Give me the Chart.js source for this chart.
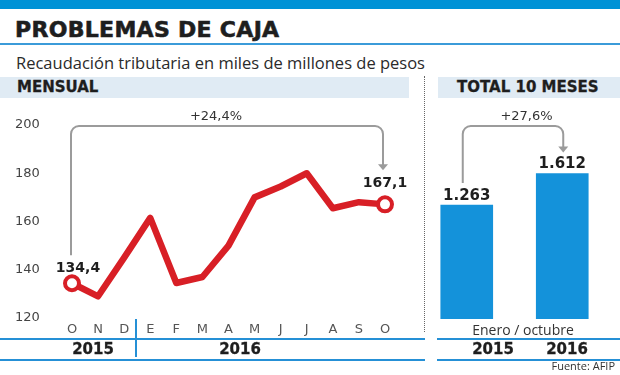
<!DOCTYPE html>
<html>
<head>
<meta charset="utf-8">
<script src="https://cdn.jsdelivr.net/npm/chart.js@4.4.1/dist/chart.umd.min.js"></script>
<style>
  body { margin: 0; background: #fff; }
  #page { position: relative; width: 620px; height: 375px; overflow: hidden; font-family: "DejaVu Sans", sans-serif; color: #1e1e1e; }
  .abs { position: absolute; white-space: nowrap; }
  #topbar { left: 0; top: 0; width: 620px; height: 9px; background: #0092d6; }
  #title { left: 15px; top: 16px; font: bold 22px "DejaVu Sans"; letter-spacing: 0.3px; line-height: 28px; -webkit-text-stroke: 0.6px #1e1e1e; }
  #titleRule { left: 0; top: 43px; width: 620px; height: 2px; background: #3b9bd9; }
  #subtitle { left: 16px; top: 52px; font: 16.5px "Open Sans"; line-height: 22px; color: #2a2a2a; }
  .band { background: #e0ebf4; height: 21px; top: 77px; }
  .band span { position: absolute; top: 0; font: bold 15px "DejaVu Sans"; line-height: 21px; -webkit-text-stroke: 0.3px #1e1e1e; }
  #bandLeft { left: 0; width: 409px; }
  #bandRight { left: 438px; width: 182px; }
  #sep { left: 424px; top: 76px; width: 0; height: 256px; border-left: 1px dotted #666; }
  .rule { height: 2px; background: #2590d6; }
  .year { font: bold 15px "DejaVu Sans"; line-height: 20px; top: 339px; transform: translateX(-50%); -webkit-text-stroke: 0.3px #1e1e1e; }
  #yearSep { left: 135px; top: 319px; width: 2px; height: 38px; background: #2590d6; }
  #caption { left: 523px; top: 320px; font: 14px "Open Sans"; color: #333; transform: translateX(-50%); line-height: 20px; }
  #source { right: 5px; top: 359px; font: 11px "Open Sans"; color: #333; line-height: 14px; }
  canvas { position: absolute; }
</style>
</head>
<body>
<div id="page">
  <div id="topbar" class="abs"></div>
  <div id="title" class="abs">PROBLEMAS DE CAJA</div>
  <div id="titleRule" class="abs"></div>
  <div id="subtitle" class="abs">Recaudación tributaria en miles de millones de pesos</div>
  <div id="bandLeft" class="abs band"><span style="left:17px">MENSUAL</span></div>
  <div id="bandRight" class="abs band"><span style="left:19px">TOTAL 10 MESES</span></div>
  <div id="sep" class="abs"></div>

  <canvas id="lineChart" width="420" height="245" style="left:0;top:100px"></canvas>
  <canvas id="barChart" width="210" height="245" style="left:410px;top:100px"></canvas>

  <div class="abs rule" style="left:0;top:338px;width:425px"></div>
  <div class="abs rule" style="left:0;top:359px;width:425px"></div>
  <div class="abs rule" style="left:437px;top:338px;width:183px"></div>
  <div class="abs rule" style="left:437px;top:359px;width:183px"></div>
  <div id="yearSep" class="abs"></div>
  <div id="caption" class="abs">Enero / octubre</div>
  <div id="source" class="abs">Fuente: AFIP</div>
</div>

<script>
// monthly tax collection, oct 2015 - oct 2016
const months = ['O', 'N', 'D', 'E', 'F', 'M', 'A', 'M', 'J', 'J', 'A', 'S', 'O'];
const monthly = [134.4, 129, 145, 161.5, 134.5, 137, 150, 170, 174.5, 180, 165.5, 168, 167.1];
const yTicks = [120, 140, 160, 180, 200];
const monthlyChange = '+24,4%';

// jan-oct totals
const totalYears = ['2015', '2016'];
const totals = [1263, 1612];
const totalChange = '+27,6%';

// year row under the axes: label and centre x
const yearRow = [['2015', 93], ['2016', 240], ['2015', 493], ['2016', 567]];

const RED = '#d81f26';
const BLUE = '#1492da';
const GRAY = '#9b9b9b';

yearRow.forEach(([txt, x]) => {
    const d = document.createElement('div');
    d.className = 'abs year';
    d.style.left = x + 'px';
    d.textContent = txt;
    document.getElementById('page').appendChild(d);
});

function fmtDec(v) {
    return v.toFixed(1).replace('.', ',');
}

function fmtThousands(v) {
    return String(v).replace(/\B(?=(\d{3})+(?!\d))/g, '.');
}

// bracket with rounded corners and an arrow at the end
function drawBracket(ctx, x1, yStart, x2, yEnd, yTop) {
    const r = 8;
    ctx.save();
    ctx.strokeStyle = GRAY;
    ctx.fillStyle = GRAY;
    ctx.lineWidth = 2;
    ctx.beginPath();
    ctx.moveTo(x1, yStart);
    ctx.lineTo(x1, yTop + r);
    ctx.arcTo(x1, yTop, x1 + r, yTop, r);
    ctx.lineTo(x2 - r, yTop);
    ctx.arcTo(x2, yTop, x2, yTop + r, r);
    ctx.lineTo(x2, yEnd - 4);
    ctx.stroke();
    ctx.beginPath();
    ctx.moveTo(x2 - 5, yEnd - 6);
    ctx.lineTo(x2 + 5, yEnd - 6);
    ctx.lineTo(x2, yEnd);
    ctx.closePath();
    ctx.fill();
    ctx.restore();
}

const lineNotes = {
    id: 'lineNotes',
    afterDatasetsDraw(chart) {
        const ctx = chart.ctx;
        const pts = chart.getDatasetMeta(0).data;
        const first = pts[0];
        const last = pts[pts.length - 1];
        const top = chart.chartArea.top + 1;
        drawBracket(ctx, first.x - 1, first.y - 28, last.x - 2, last.y - 34, top);

        ctx.save();
        ctx.fillStyle = '#333';
        ctx.font = '13px "DejaVu Sans"';
        ctx.textAlign = 'center';
        ctx.textBaseline = 'middle';
        ctx.fillText(monthlyChange, first.x + (last.x - first.x) * 0.46, top - 9);

        ctx.fillStyle = '#1e1e1e';
        ctx.font = 'bold 14px "DejaVu Sans"';
        ctx.fillText(fmtDec(monthly[0]), first.x + 6, first.y - 15);
        ctx.fillText(fmtDec(monthly[monthly.length - 1]), last.x, last.y - 21);
        ctx.restore();
    }
};

new Chart(document.getElementById('lineChart'), {
    type: 'line',
    data: {
        labels: months,
        datasets: [{
            data: monthly,
            borderColor: RED,
            borderWidth: 6.5,
            borderJoinStyle: 'round',
            borderCapStyle: 'round',
            tension: 0,
            pointRadius: monthly.map((v, i) => (i === 0 || i === monthly.length - 1) ? 7 : 0),
            pointBorderWidth: 4,
            pointBorderColor: RED,
            pointBackgroundColor: '#fff',
        }],
    },
    options: {
        responsive: false,
        animation: false,
        devicePixelRatio: 1,
        layout: { padding: { left: 15, top: 25, right: 35, bottom: 0 } },
        plugins: { legend: { display: false }, tooltip: { enabled: false } },
        scales: {
            x: {
                grid: { display: false, drawTicks: false },
                border: { display: false },
                ticks: {
                    autoSkip: false,
                    maxRotation: 0,
                    padding: 4,
                    color: '#555',
                    font: { family: 'DejaVu Sans', size: 13 },
                },
                afterFit: (scale) => { scale.height = 27; },
            },
            y: {
                min: 120,
                max: 200,
                afterBuildTicks: (scale) => { scale.ticks = yTicks.map(v => ({ value: v })); },
                grid: { display: false, drawTicks: false },
                border: { display: false },
                ticks: {
                    crossAlign: 'far',
                    color: '#444',
                    font: { family: 'DejaVu Sans', size: 13 },
                },
                afterFit: (scale) => { scale.width = 57; },
            },
        },
    },
    plugins: [lineNotes],
});

const barNotes = {
    id: 'barNotes',
    afterDatasetsDraw(chart) {
        const ctx = chart.ctx;
        const bars = chart.getDatasetMeta(0).data;
        const top = chart.chartArea.top + 1;
        drawBracket(ctx, bars[0].x - 4, bars[0].y - 22, bars[1].x + 1, bars[1].y - 21, top);

        ctx.save();
        ctx.fillStyle = '#333';
        ctx.font = '13px "DejaVu Sans"';
        ctx.textAlign = 'center';
        ctx.textBaseline = 'middle';
        ctx.fillText(totalChange, (bars[0].x + bars[1].x) / 2 + 12, top - 9);

        ctx.fillStyle = '#1e1e1e';
        ctx.font = 'bold 15px "DejaVu Sans"';
        bars.forEach((b, i) => {
            ctx.fillText(fmtThousands(totals[i]), b.x, b.y - 9);
        });
        ctx.restore();
    }
};

new Chart(document.getElementById('barChart'), {
    type: 'bar',
    data: {
        labels: totalYears,
        datasets: [{
            data: totals,
            backgroundColor: BLUE,
            barThickness: 52,
        }],
    },
    options: {
        responsive: false,
        animation: false,
        devicePixelRatio: 1,
        layout: { padding: { left: 9, top: 25, right: 10, bottom: 26 } },
        plugins: { legend: { display: false }, tooltip: { enabled: false } },
        scales: {
            x: { display: false },
            y: { display: false, min: 0, max: 2150 },
        },
    },
    plugins: [barNotes],
});
</script>
</body>
</html>
